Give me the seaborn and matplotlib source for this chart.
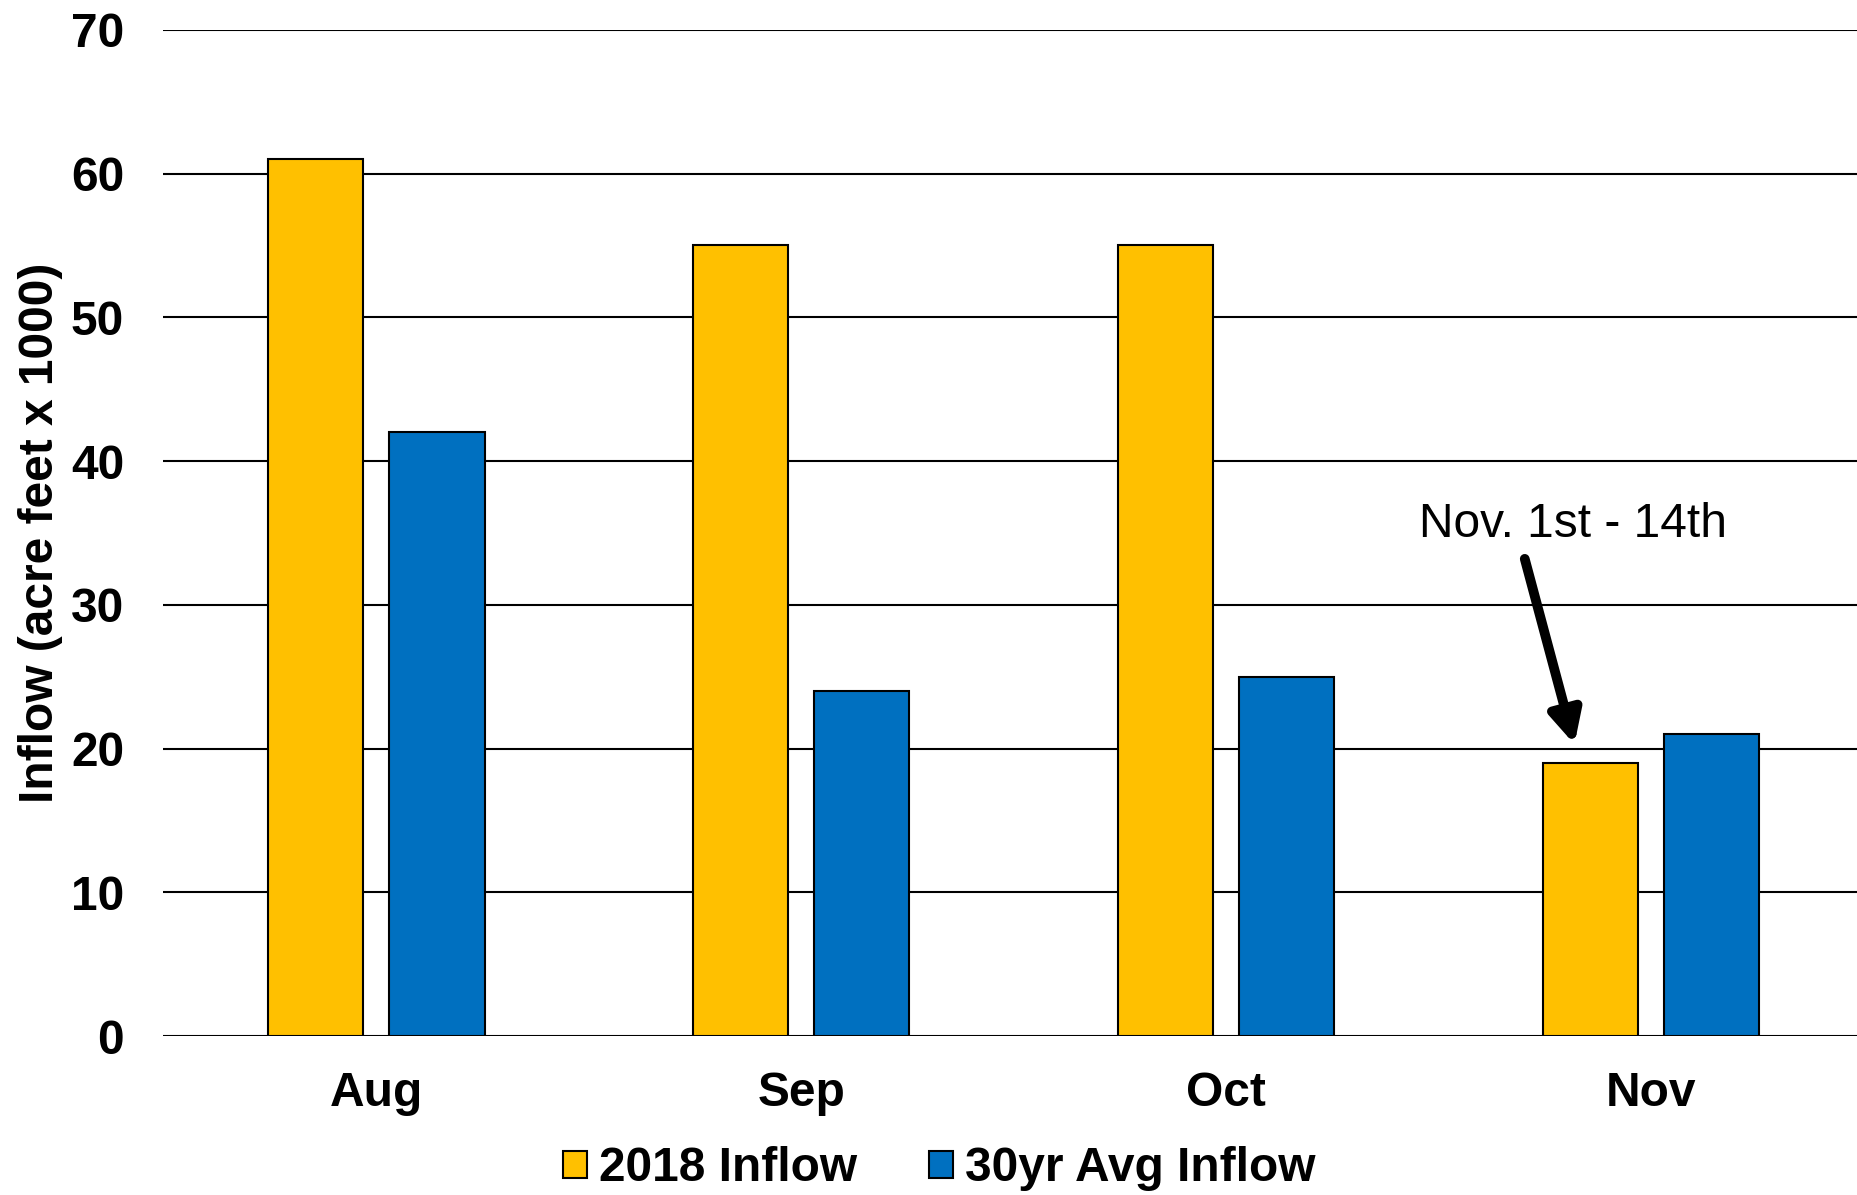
import pandas as pd
import matplotlib
matplotlib.use('Agg')
import matplotlib.pyplot as plt
import seaborn as sns

months = ['Aug', 'Sep', 'Oct', 'Nov']
inflow_2018 = [61, 55, 55, 19]
inflow_30yr = [42, 24, 25, 21]
series_names = ['2018 Inflow', '30yr Avg Inflow']
colors = ['#FFC000', '#0070C0']

df = pd.DataFrame({
    'Month': months * 2,
    'Inflow': inflow_2018 + inflow_30yr,
    'Series': [series_names[0]] * 4 + [series_names[1]] * 4,
})

sns.set_theme(style='white')
plt.rcParams['font.family'] = ['Liberation Sans', 'DejaVu Sans']
plt.rcParams['text.color'] = 'black'
plt.rcParams['xtick.color'] = 'black'
plt.rcParams['ytick.color'] = 'black'
plt.rcParams['axes.labelcolor'] = 'black'

fs = 34.5

fig = plt.figure(figsize=(18.57, 11.95), dpi=100)
ax = fig.add_axes([0.0878, 0.133, 0.9122, 0.842])

sns.barplot(data=df, x='Month', y='Inflow', hue='Series', palette=colors,
            saturation=1, width=0.571, gap=0.215, edgecolor='black',
            linewidth=1.5, ax=ax)

ax.set_ylim(0, 70)
ax.set_xlim(-0.502, 3.485)
ax.set_yticks(range(0, 71, 10))
ax.set_axisbelow(True)
ax.yaxis.grid(True, color='black', linewidth=1.5)
for s in ax.spines.values():
    s.set_visible(False)
ax.tick_params(axis='both', length=0, labelsize=fs)
ax.tick_params(axis='y', pad=28)
ax.tick_params(axis='x', pad=25)
for lab in ax.get_xticklabels() + ax.get_yticklabels():
    lab.set_fontweight('bold')

ax.set_xlabel('')
ax.set_ylabel('Inflow (acre feet x 1000)', fontsize=fs, fontweight='bold', labelpad=6)

# note over the Nov bars
ax.text(2.817, 35.6, 'Nov. 1st - 14th', ha='center', va='center', fontsize=fs)
ax.annotate('', xy=(2.82, 20.3), xytext=(2.703, 33.2),
            arrowprops=dict(arrowstyle='-|>,head_length=1.6,head_width=0.8',
                            color='black', lw=7, shrinkA=0, shrinkB=0))

handles, labels = ax.get_legend_handles_labels()
ax.get_legend().remove()
fig.legend(handles, labels, loc='center', bbox_to_anchor=(0.506, 0.022),
           ncol=2, frameon=False, prop={'size': fs, 'weight': 'bold'},
           handlelength=0.5, handleheight=0.5, handletextpad=0.25,
           columnspacing=1.5)

fig.savefig('out.png', dpi=100)
